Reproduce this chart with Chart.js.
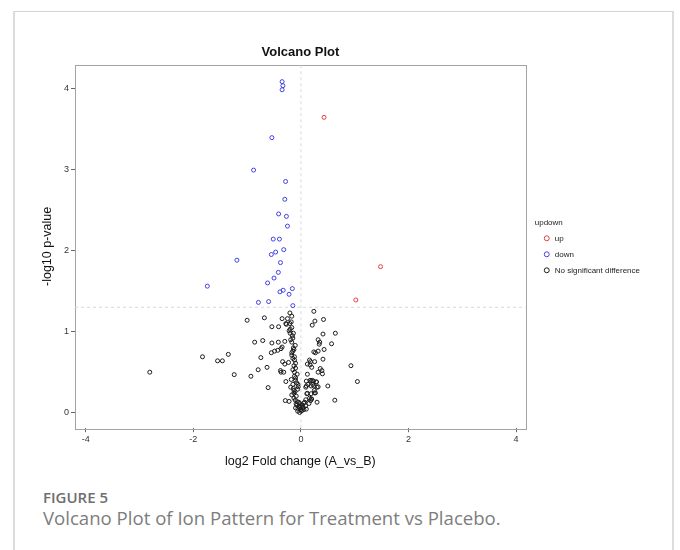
<!DOCTYPE html>
<html>
<head>
<meta charset="utf-8">
<script src="https://cdn.jsdelivr.net/npm/chart.js@4.4.0/dist/chart.umd.min.js"></script>
<style>
body { margin: 0; width: 680px; height: 550px; position: relative; overflow: hidden; background: #fff; }
.card { position: absolute; left: 13px; top: 11px; width: 657px; height: 600px; border: 1px solid #d4d4d4; border-left: 2px solid #dcdcdc; border-right: 2px solid #dcdcdc; }
#volcano { position: absolute; left: 0; top: 0; }
.fig { position: absolute; left: 43px; top: 487px; font: 600 15px/20px 'Open Sans', sans-serif; color: #6e6e6e; }
.cap { position: absolute; left: 43px; top: 505px; font: 400 18.6px/26px 'Open Sans', sans-serif; color: #7d7d7d; white-space: nowrap; }
</style>
</head>
<body>
<div class="card"></div>
<canvas id="volcano" width="680" height="480"></canvas>
<div class="fig">FIGURE 5</div>
<div class="cap">Volcano Plot of Ion Pattern for Treatment vs Placebo.</div>
<script>
// axis ticks and ranges
const xTicks = [-4, -2, 0, 2, 4];
const yTicks = [0, 1, 2, 3, 4];
const xRange = [-4.2, 4.18];
const yRange = [-0.19, 4.29];
const pCut = 1.3;
const fcCut = 0;

// up regulated
const upX = [0.43, 1.48, 1.02];
const upY = [3.64, 1.80, 1.39];

// down regulated
const downX = [-0.35, -0.335, -0.35, -0.54, -0.88, -0.285, -0.30, -0.415, -0.27, -0.25,
    -0.515, -0.40, -0.32, -0.47, -0.55, -1.19, -0.38, -0.42, -0.50, -0.62,
    -1.74, -0.16, -0.33, -0.39, -0.22, -0.79, -0.60, -0.15];
const downY = [4.08, 4.03, 3.98, 3.39, 2.99, 2.85, 2.63, 2.45, 2.42, 2.30,
    2.14, 2.14, 2.01, 1.98, 1.95, 1.88, 1.85, 1.73, 1.66, 1.60,
    1.56, 1.53, 1.51, 1.49, 1.46, 1.36, 1.37, 1.32];

// no significant difference
const nsX = [0.24, -0.205, -0.17, -1.0, -0.68, -0.35, -0.25, 0.26, 0.42, 0.21,
    -0.27, -0.205, -0.54, -0.415, -0.17, -0.22, -0.20, -0.14, 0.41, 0.64,
    0.32, 0.35, 0.34, -0.86, -0.71, -0.54, -0.42, -0.30, -0.19, -0.17,
    -0.105, 0.57, 0.43, 0.32, -0.35, -0.43, -0.49, -0.55, -0.13, -0.17,
    0.24, 0.27, -0.17, -1.83, -1.55, -1.46, -1.35, -0.745, 0.41, -0.15,
    -0.12, 0.16, 0.18, 0.255, 0.12, 0.17, -0.34, -0.30, -0.10, 0.93,
    -0.63, -0.795, 0.20, 0.36, 0.39, 0.32, 0.40, -0.38, -0.32, -0.37,
    -0.15, -0.12, -0.07, 0.12, -2.81, -1.24, -0.93, -0.18, -0.10, -0.28,
    0.10, 0.19, 0.235, 0.285, 1.05, 0.13, 0.22, -0.15, -0.056, 0.50,
    0.24, 0.30, 0.09, -0.61, -0.19, -0.06, -0.13, 0.25, 0.25, 0.12,
    -0.13, -0.17, -0.087, 0.19, 0.18, 0.63, -0.29, -0.22, 0.30, -0.13,
    -0.105, -0.068, -0.025, 0.07, 0.15, -0.075, 0.025, 0.087, -0.037, 0.037,
    -0.10, -0.006, -0.056, 0.056, 0.006, -0.025, 0.10, -0.18, -0.20, -0.16,
    -0.15, -0.14, -0.15, -0.12, -0.13, -0.10, -0.12, -0.10, -0.08, -0.05,
    -0.14, -0.11, 0.17, 0.21, 0.29, 0.32, 0.10, 0.19, 0.27, 0.19,
    0.11, 0.16, 0.09, 0.05, 0.20, 0.013, 0.04, -0.04, -0.09, -0.02,
    0.02, -0.06, -0.28, -0.37, -0.23];
const nsY = [1.25, 1.23, 1.19, 1.14, 1.17, 1.16, 1.16, 1.13, 1.15, 1.08,
    1.09, 1.10, 1.06, 1.06, 1.05, 1.01, 0.98, 0.98, 0.97, 0.98,
    0.90, 0.87, 0.845, 0.87, 0.89, 0.86, 0.87, 0.88, 0.90, 0.87,
    0.83, 0.85, 0.78, 0.76, 0.81, 0.77, 0.76, 0.74, 0.78, 0.74,
    0.75, 0.74, 0.71, 0.69, 0.64, 0.64, 0.72, 0.68, 0.66, 0.67,
    0.65, 0.65, 0.63, 0.63, 0.60, 0.59, 0.63, 0.60, 0.61, 0.58,
    0.56, 0.53, 0.56, 0.545, 0.52, 0.50, 0.48, 0.52, 0.50, 0.50,
    0.53, 0.50, 0.475, 0.475, 0.50, 0.47, 0.45, 0.41, 0.40, 0.385,
    0.39, 0.39, 0.39, 0.38, 0.385, 0.35, 0.35, 0.35, 0.35, 0.33,
    0.33, 0.315, 0.315, 0.31, 0.315, 0.29, 0.275, 0.275, 0.245, 0.24,
    0.24, 0.22, 0.205, 0.17, 0.15, 0.155, 0.15, 0.14, 0.13, 0.18,
    0.155, 0.135, 0.115, 0.13, 0.115, 0.094, 0.094, 0.086, 0.074, 0.06,
    0.06, 0.04, 0.053, 0.04, 0.02, 0.004, 0.045, 1.12, 1.03, 0.95,
    0.92, 0.80, 0.76, 0.69, 0.58, 0.55, 0.45, 0.43, 0.37, 0.32,
    0.30, 0.26, 0.40, 0.40, 0.38, 0.32, 0.33, 0.33, 0.245, 0.235,
    0.235, 0.18, 0.16, 0.12, 0.17, 0.09, 0.07, 0.13, 0.11, 0.08,
    0.03, 0.02, 1.10, 0.79, 0.62];

const font = "'Liberation Sans', Arial, sans-serif";

const toPoints = (xs, ys) => xs.map((x, i) => ({x: x, y: ys[i]}));

const volcanoData = {
    datasets: [{
            label: 'up',
            data: toPoints(upX, upY),
            borderColor: 'rgb(226, 62, 62)',
            backgroundColor: 'rgba(0,0,0,0)',
            pointRadius: 2,
            borderWidth: 1,
            order: 1
        },
        {
            label: 'down',
            data: toPoints(downX, downY),
            borderColor: 'rgb(64, 64, 226)',
            backgroundColor: 'rgba(0,0,0,0)',
            pointRadius: 2,
            borderWidth: 1,
            order: 1
        },
        {
            label: 'No significant difference',
            data: toPoints(nsX, nsY),
            borderColor: '#1c1c1c',
            backgroundColor: 'rgba(0,0,0,0)',
            pointRadius: 2,
            borderWidth: 1,
            order: 1
        },
        {
            label: 'p cut',
            type: 'line',
            data: [{x: xRange[0], y: pCut}, {x: xRange[1], y: pCut}],
            borderColor: '#d9d9d9',
            borderDash: [3, 3],
            borderWidth: 1,
            pointRadius: 0,
            order: 5
        },
        {
            label: 'fc cut',
            type: 'line',
            data: [{x: fcCut, y: yRange[0]}, {x: fcCut, y: yRange[1]}],
            borderColor: '#d9d9d9',
            borderDash: [3, 3],
            borderWidth: 1,
            pointRadius: 0,
            order: 5
        }
    ]
};

// box around the plot, title centred over the plot, legend nudged
const framePlugin = {
    id: 'frame',
    afterLayout(chart) {
        const t = chart.titleBlock, a = chart.chartArea, lg = chart.legend;
        t.left = a.left;
        t.right = a.right;
        t.width = a.right - a.left;
        lg.left += 9;
        lg.right += 9;
        lg.top += 14;
        lg.bottom += 14;
    },
    beforeDatasetsDraw(chart) {
        const a = chart.chartArea, ctx = chart.ctx;
        ctx.save();
        ctx.strokeStyle = '#a3a3a3';
        ctx.lineWidth = 1;
        ctx.strokeRect(Math.round(a.left) + 0.5, Math.round(a.top) + 0.5,
            Math.round(a.right - a.left), Math.round(a.bottom - a.top));
        ctx.restore();
    }
};

const volcanoConfig = {
    type: 'scatter',
    data: volcanoData,
    options: {
        responsive: false,
        animation: false,
        layout: {
            padding: {left: 36, right: 39, top: 0, bottom: 7}
        },
        plugins: {
            title: {
                display: true,
                text: 'Volcano Plot',
                color: '#111',
                font: {family: font, size: 13, weight: 'bold'},
                padding: {top: 45, bottom: 4}
            },
            legend: {
                position: 'right',
                align: 'center',
                title: {
                    display: true,
                    text: 'updown',
                    color: '#222',
                    position: 'start',
                    font: {family: font, size: 8, lineHeight: 0.7},
                    padding: {top: 0, bottom: 2}
                },
                labels: {
                    usePointStyle: true,
                    pointStyle: 'circle',
                    boxWidth: 8,
                    boxHeight: 3.5,
                    padding: 8,
                    color: '#222',
                    font: {family: font, size: 8},
                    filter: item => item.datasetIndex < 3
                }
            },
            tooltip: {enabled: false}
        },
        scales: {
            x: {
                type: 'linear',
                min: xRange[0],
                max: xRange[1],
                afterBuildTicks: scale => {
                    scale.ticks = xTicks.map(v => ({value: v}));
                },
                ticks: {color: '#333', padding: 2, font: {family: font, size: 9}},
                grid: {drawOnChartArea: false, drawTicks: true, tickLength: 4, color: '#666'},
                border: {display: false},
                title: {
                    display: true,
                    text: 'log2 Fold change (A_vs_B)',
                    color: '#111',
                    font: {family: font, size: 12.5},
                    padding: {top: 7, bottom: 4}
                }
            },
            y: {
                type: 'linear',
                min: yRange[0],
                max: yRange[1],
                afterBuildTicks: scale => {
                    scale.ticks = yTicks.map(v => ({value: v}));
                },
                ticks: {color: '#333', padding: 2, font: {family: font, size: 9}},
                grid: {drawOnChartArea: false, drawTicks: true, tickLength: 4, color: '#666'},
                border: {display: false},
                title: {
                    display: true,
                    text: '-log10 p-value',
                    color: '#111',
                    font: {family: font, size: 12.5},
                    padding: {top: 4, bottom: 7}
                }
            }
        }
    },
    plugins: [framePlugin]
};

const volcanoChart = new Chart(
    document.getElementById('volcano'),
    volcanoConfig
);
</script>
</body>
</html>
